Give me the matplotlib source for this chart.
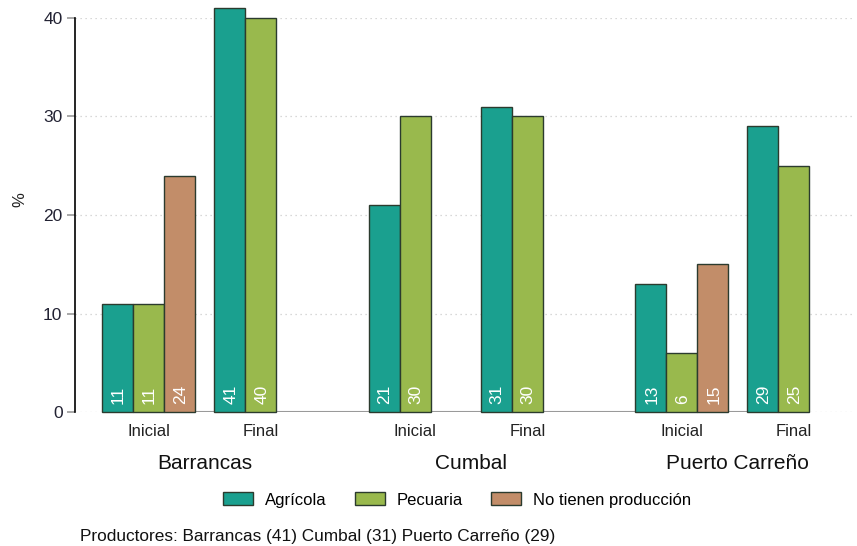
import matplotlib
matplotlib.use("Agg")
import matplotlib.pyplot as plt
from matplotlib.patches import Patch
import numpy as np

plt.rcParams['font.family'] = ['Liberation Sans', 'DejaVu Sans']

cities = ["Barrancas", "Cumbal", "Puerto Carreño"]
periods = ["Inicial", "Final"]
series = ["Agrícola", "Pecuaria", "No tienen producción"]
colors = ["#1aa08f", "#99b94d", "#c28d69"]
# values[city][period] = [Agrícola, Pecuaria, No tienen producción]
agricola = [[11, 41], [21, 31], [13, 29]]
pecuaria = [[11, 40], [30, 30], [6, 25]]
no_tienen = [[24, None], [None, None], [15, None]]
yticks = [0, 10, 20, 30, 40]
footer = "Productores: Barrancas (41) Cumbal (31) Puerto Carreño (29)"

W, H = 857, 546
fig = plt.figure(figsize=(W / 100, H / 100), dpi=100)
ax = fig.add_axes([75 / W, 1 - 412 / H, (852 - 75) / W, (412 - 18) / H])

city_step = 8.6
period_step = 3.62
data = [agricola, pecuaria, no_tienen]
last_right = 0
for c in range(len(cities)):
    for p in range(len(periods)):
        start = c * city_step + p * period_step
        for s in range(len(series)):
            v = data[s][c][p]
            if v is None:
                continue
            x = start + s + 0.5
            ax.bar(x, v, width=1.0, color=colors[s], edgecolor="#2b3b2e",
                   linewidth=1.0, clip_on=False, zorder=3)
            ax.annotate(str(v), (x, 0), xytext=(1, 8), textcoords="offset pixels",
                        rotation=90, ha="center", va="bottom", color="white",
                        fontsize=12.5, zorder=4)
            last_right = max(last_right, start + s + 1)
        ax.text(start + 1.5, -0.05, periods[p], transform=ax.get_xaxis_transform(),
                ha="center", va="center", fontsize=12, color="#222222")
    ax.text(c * city_step + (period_step + 3) / 2, -0.13, cities[c],
            transform=ax.get_xaxis_transform(), ha="center", va="center",
            fontsize=15, color="#111111")

ax.plot([0, last_right], [0, 0], color="#9a9a9a", linewidth=1.5, zorder=2,
        solid_capstyle="butt")

ax.set_xlim(-27 / 31, (852 - 102) / 31)
ax.set_ylim(0, 40)
ax.set_yticks(yticks)
ax.set_yticklabels([str(t) for t in yticks], fontsize=12.5, color="#222233")
ax.set_xticks([])
ax.tick_params(axis="y", length=6, width=1.2, color="#999999", pad=3)
ax.grid(axis="y", linestyle=(0, (1, 3)), color="#cccccc", linewidth=0.9, zorder=0)
ax.set_axisbelow(True)
for s in ["top", "right", "bottom"]:
    ax.spines[s].set_visible(False)
ax.spines["left"].set_color("black")
ax.spines["left"].set_linewidth(1.2)

fig.text(20 / W, 1 - 200 / H, "%", rotation=90, ha="center", va="center",
         fontsize=12, color="#222222")

handles = [Patch(facecolor=colors[i], edgecolor="#2b3b2e", linewidth=1.0) for i in range(3)]
fig.legend(handles, series, loc="center", bbox_to_anchor=(457 / W, 1 - 500 / H),
           ncol=3, frameon=False, fontsize=12, handlelength=1.8, handleheight=0.8,
           handletextpad=0.7, columnspacing=1.7)

fig.text(80 / W, 1 - 536 / H, footer, ha="left", va="center", fontsize=12.4,
         color="#111111")

fig.savefig("out.png", dpi=100)
